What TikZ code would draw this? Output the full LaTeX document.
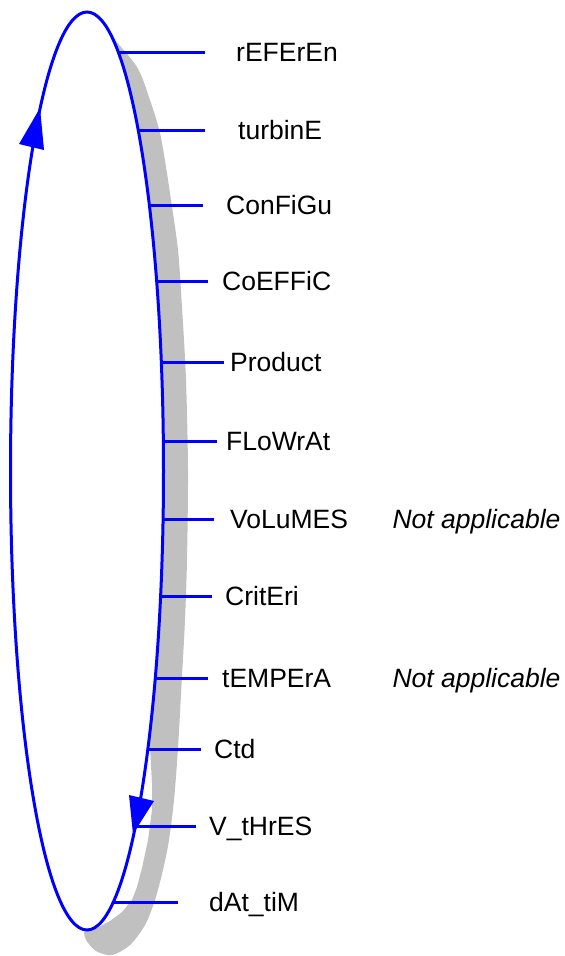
\documentclass[tikz,border=0pt]{standalone}
\usepackage{fontspec}
\setmainfont{Liberation Sans}
\definecolor{ringblue}{RGB}{0,0,255}
\definecolor{shadowgray}{RGB}{192,192,192}
% x position on the right half of the ring at a given height
\newcommand\ringx[1]{87+76.5*sqrt(1-((#1-471)/459)^2)}
\begin{document}
\begin{tikzpicture}[x=1pt,y=-1pt,
  ring/.style={draw=ringblue, line width=3pt},
  tick/.style={draw=ringblue, line width=3pt},
  arrowhead/.style={fill=ringblue, draw=none},
  lbl/.style={font=\fontsize{26.5}{30}\selectfont, text=black, inner ysep=0pt,
    text height=19pt, text depth=0pt, anchor=west},
  note/.style={font=\fontsize{26.5}{30}\selectfont\itshape, text=black, inner sep=0pt,
    text height=19pt, text depth=0pt, anchor=center}]
\useasboundingbox (0,0) rectangle (565,956);

% shadow crescent; its inner edge leaves the ring near the bottom
\fill[shadowgray]
  plot[smooth] coordinates {(112,37) (137,67) (150,100) (160,133) (166,167)
    (171,200) (178,250) (182,307) (186,380) (188,470) (187,560) (185,620)
    (182,676) (178,748) (174,800) (169,840) (163,870) (155,900) (145,925)
    (130,945) (112,955) (96,951) (86,940) (84,932)}
  -- (97,928) -- (110,921) -- (122,912) -- (132,900) -- (137,887)
  -- (142,868) -- (148,840) -- (152,810) -- (152,785) -- (150,745)
  -- (135,730) -- (60,470) -- (85,40) -- cycle;

% the ring: white inside, blue outline
\fill[white] (87,471) ellipse [x radius=75.5, y radius=458];
\draw[ring] (87,471) ellipse [x radius=76.5, y radius=459];

% direction arrows on the ring
\fill[arrowhead] (40,108) -- (19,144) -- (44,150) -- cycle;
\fill[arrowhead] (133,834) -- (154,801) -- (129,795) -- cycle;

% labels
\node[lbl, inner xsep=31pt] (l1)  at (205,52)  {rEFErEn};
\node[lbl, inner xsep=33pt] (l2)  at (205,130) {turbinE};
\node[lbl, inner xsep=23pt] (l3)  at (203,205) {ConFiGu};
\node[lbl, inner xsep=14pt] (l4)  at (208,281) {CoEFFiC};
\node[lbl, inner xsep=6pt]  (l5)  at (224,362) {Product};
\node[lbl, inner xsep=9pt]  (l6)  at (217,441) {FLoWrAt};
\node[lbl, inner xsep=16pt] (l7)  at (214,519) {VoLuMES};
\node[lbl, inner xsep=13pt] (l8)  at (212,596) {CritEri};
\node[lbl, inner xsep=14pt] (l9)  at (208,678) {tEMPErA};
\node[lbl, inner xsep=13pt] (l10) at (201,749) {Ctd};
\node[lbl, inner xsep=13pt] (l11) at (196,826) {V\_tHrES};
\node[lbl, inner xsep=31pt] (l12) at (178,902) {dAt\_tiM};

\node[note] (n7) at (476.5,519) {Not applicable};
\node[note] (n9) at (476.5,678) {Not applicable};

% points where the ticks leave the ring
\foreach \i/\yy in {1/52,2/130,3/205,4/281,5/362,6/441,7/519,8/596,9/678,10/749,11/826,12/902}
  \coordinate (e\i) at ({\ringx{\yy}},\yy);

% ticks from the ring to each label
\foreach \i in {1,...,12}
  \draw[tick] (e\i) -- (l\i.west);
\end{tikzpicture}
\end{document}
